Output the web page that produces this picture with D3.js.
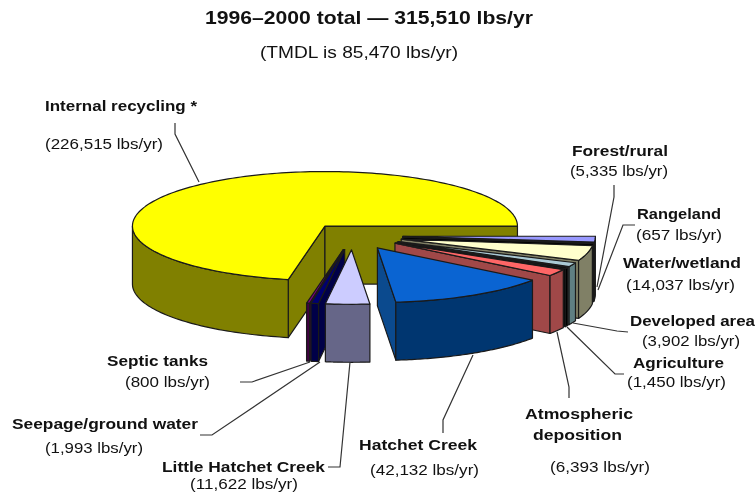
<!DOCTYPE html>
<html><head><meta charset="utf-8">
<script src="https://cdn.jsdelivr.net/npm/d3@7"></script>
<style>
html,body{margin:0;padding:0;background:#fff}
svg{display:block;filter:blur(0.35px)}
text{font-family:"Liberation Sans",Arial,sans-serif;fill:#111}
</style></head><body>
<div id="chart"></div>
<script>
// Data: clockwise from the east edge of the pie
const categories = ["Forest/rural","Rangeland","Water/wetland","Developed area","Agriculture","Atmospheric deposition","Hatchet Creek","Little Hatchet Creek","Seepage/ground water","Septic tanks","Internal recycling *"];
const values = [5335,657,14037,3902,1450,6393,42132,11622,1993,800,226515];
const valueLabels = ["(5,335 lbs/yr)","(657 lbs/yr)","(14,037 lbs/yr)","(3,902 lbs/yr)","(1,450 lbs/yr)","(6,393 lbs/yr)","(42,132 lbs/yr)","(11,622 lbs/yr)","(1,993 lbs/yr)","(800 lbs/yr)","(226,515 lbs/yr)"];
const topColors  = ["#9999ff","#000000","#ffffcc","#a9c9d4","#000000","#ff6666","#0a64d2","#ccccff","#000070","#800080","#ffff00"];
const sideColors = ["#0c0c1c","#000000","#808066","#5f7f82","#000000","#a04848","#003670","#666688","#000048","#400040","#808000"];
const cutColors  = ["#0c0c1c","#000000","#808066","#5f7f82","#000000","#a04848","#0b4a8e","#666688","#000048","#400040","#808000"];
const explodeBy = [0.262,0.262,0.262,0.262,0.262,0.262,0.262,0.262,0.262,0.262,0.225];
const titleText = "1996\u20132000 total \u2014 315,510 lbs/yr";
const subtitleText = "(TMDL is 85,470 lbs/yr)";

// Layout
const W = 756, H = 497;
const cx = 352.5, cy = 235.5, rx = 192.5, ry = 54.5, depth = 58;
const labelFont = 15.5;

const svg = d3.select("#chart").append("svg").attr("width", W).attr("height", H);

const pie = d3.pie().sort(null).value(d => d).startAngle(Math.PI/2).endAngle(Math.PI/2 + 2*Math.PI);
const arcs = pie(values).map((a,i) => ({...a, i}));

const sx = d3.scaleLinear().domain([-1,1]).range([-rx, rx]);
const sy = d3.scaleLinear().domain([-1,1]).range([-ry, ry]);
const pt = (ang, ox, oy, dz=0) => [ox + sx(Math.sin(ang)), oy - sy(Math.cos(ang)) + dz];
const line = d3.line();

function drawSlice(a){
  const mid = (a.startAngle + a.endAngle)/2, e = explodeBy[a.i];
  const ox = cx + sx(Math.sin(mid))*e, oy = cy - sy(Math.cos(mid))*e;
  const g = svg.append("g").attr("class","slice").attr("stroke","#1a1a1a").attr("stroke-width",1.2).attr("stroke-linejoin","round");
  const wall = ang => {
    g.append("path").attr("fill",cutColors[a.i]).attr("d", line([[ox,oy],pt(ang,ox,oy),pt(ang,ox,oy,depth),[ox,oy+depth]])+"Z");
  };
  // cut faces that look towards the viewer
  if (Math.cos(a.startAngle - Math.PI/2) < 0) wall(a.startAngle);
  if (Math.cos(a.endAngle - Math.PI/2) > 0) wall(a.endAngle);
  // outer wall: the part facing the viewer
  const a0 = Math.max(a.startAngle, Math.PI/2), a1 = Math.min(a.endAngle, 3*Math.PI/2);
  if (a1 > a0) {
    const n = 60, hi = d3.range(n+1).map(k => pt(a0+(a1-a0)*k/n, ox, oy));
    const lo = d3.range(n,-1,-1).map(k => pt(a0+(a1-a0)*k/n, ox, oy, depth));
    g.append("path").attr("fill",sideColors[a.i]).attr("d", line(hi.concat(lo))+"Z");
  }
  // top surface
  const n = Math.max(6, Math.ceil((a.endAngle-a.startAngle)*40));
  const rim = d3.range(n+1).map(k => pt(a.startAngle+(a.endAngle-a.startAngle)*k/n, ox, oy));
  g.append("path").attr("fill",topColors[a.i]).attr("d", line([[ox,oy],...rim])+"Z");
}

// painter's order: back to front
[10,0,1,2,3,4,5,6,9,8,7].forEach(i => drawSlice(arcs[i]));

// Leader lines
const leaders = [
 [[175,123],[175,134],[199,182]],
 [[614,185],[614,197],[597,287]],
 [[635,225],[623,225],[598,290]],
 [[628,332],[617,331],[573,323]],
 [[624,374],[615,374],[567,327]],
 [[569,398],[569,387],[557,332]],
 [[473,355],[443,420],[443,433]],
 [[350,362],[340,467],[328,467]],
 [[320,362],[212,435],[200,435]],
 [[310,362],[252,382],[240,382]]
];
svg.append("g").selectAll("path").data(leaders).join("path")
  .attr("d", d => line(d)).attr("fill","none").attr("stroke","#333").attr("stroke-width",1.2);

// Text placement: left edge, baseline, width stretched to the reference
function put(s, x, y, w, bold, size=labelFont){
  svg.append("text").attr("x",x).attr("y",y)
    .attr("font-size",size).attr("font-weight",bold?"bold":"normal").attr("fill",bold?"#111":"#2a2a2a")
    .attr("textLength",w).attr("lengthAdjust","spacingAndGlyphs").text(s);
}
const labelPos = [
 {i:0, n:[572,156,96], v:[570,176,98]},
 {i:1, n:[637,219,84], v:[636,240,86]},
 {i:2, n:[623,268,118], v:[626,290,109]},
 {i:3, n:[630,326,125], v:[642,346,98]},
 {i:4, n:[633,368,91], v:[627,387,99]},
 {i:5, n:[525,419,108], n2:[533,440,89], v:[550,472,100]},
 {i:6, n:[359,450,118], v:[370,475,109]},
 {i:7, n:[162,472,163], v:[190,489,108]},
 {i:8, n:[12,429,186], v:[45,453,98]},
 {i:9, n:[107,366,101], v:[125,387,85]},
 {i:10, n:[45,111,152], v:[45,149,118]}
];
const twoLineNames = {5:["Atmospheric","deposition"]};
labelPos.forEach(p => {
  const names = twoLineNames[p.i] || [categories[p.i]];
  put(names[0], ...p.n, true);
  if (names[1]) put(names[1], ...p.n2, true);
  put(valueLabels[p.i], ...p.v, false);
});
put(titleText, 205, 24, 328, true, 18.5);
put(subtitleText, 260, 58, 198, false, 17);
</script>
</body></html>
